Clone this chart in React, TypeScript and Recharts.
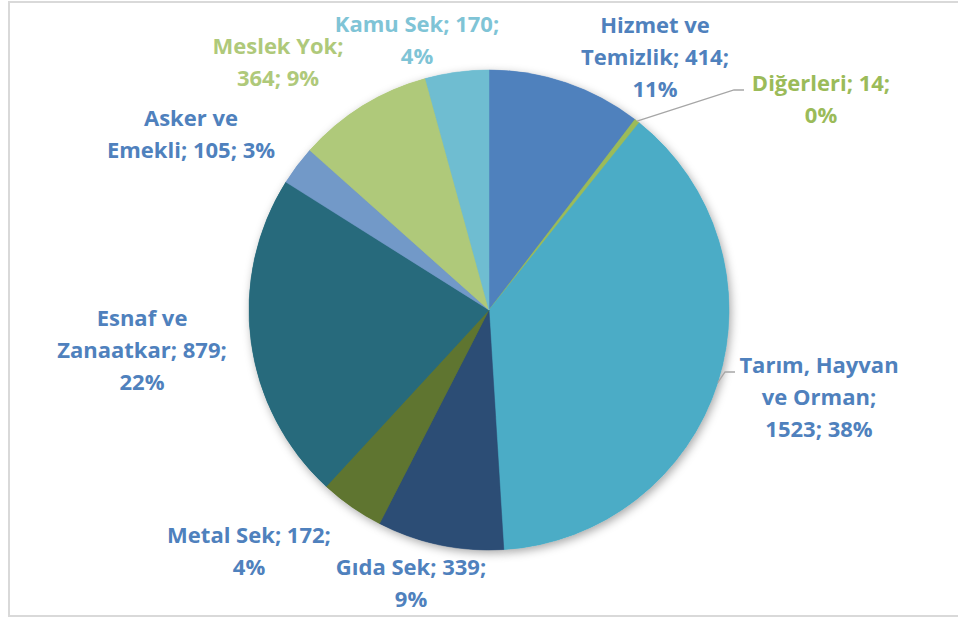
import { Cell, Pie, PieChart } from 'recharts'

const CATEGORIES = [
  'Hizmet ve Temizlik',
  'Diğerleri',
  'Tarım, Hayvan ve Orman',
  'Gıda Sek',
  'Metal Sek',
  'Esnaf ve Zanaatkar',
  'Asker ve Emekli',
  'Meslek Yok',
  'Kamu Sek',
]
const VALUES = [414, 14, 1523, 339, 172, 879, 105, 364, 170]
const PERCENT_LABELS = ['11%', '0%', '38%', '9%', '4%', '22%', '3%', '9%', '4%']

const SLICE_COLORS = [
  '#4f81bd',
  '#9bbb59',
  '#4bacc6',
  '#2c4d75',
  '#5f7530',
  '#276a7c',
  '#7299c8',
  '#afc97a',
  '#6fbdd1',
]
const LABEL_COLORS = [
  '#4f81bd',
  '#9bbb59',
  '#4f81bd',
  '#4f81bd',
  '#4f81bd',
  '#4f81bd',
  '#4f81bd',
  '#afc97a',
  '#7fc4d6',
]
// words per label line
const LABEL_BREAKS = [[2, 2, 1], [2, 1], [2, 2, 2], [3, 1], [3, 1], [2, 2, 1], [2, 3], [2, 2], [3, 1]]
// label block centre x / first baseline, relative to pie centre
const LABEL_OFFSETS = [
  [166, -277],
  [332, -219],
  [330, 63],
  [-78, 265],
  [-240, 233],
  [-347, 16],
  [-298, -184],
  [-211, -256],
  [-72, -278],
]
// distance from label centre back to leader end (null = no leader)
const LEADER_GAP: (number | null)[] = [null, 77, 84, null, null, null, null, null, null]

const data = CATEGORIES.map((name, i) => ({ name, value: VALUES[i] }))

const RAD = Math.PI / 180
const LINE_H = 32

function splitLines(text: string, breaks: number[]) {
  const words = text.split(' ')
  const lines: string[] = []
  let k = 0
  for (const n of breaks) {
    lines.push(words.slice(k, k + n).join(' '))
    k += n
  }
  return lines
}

function renderLabel(props: any) {
  const { cx, cy, midAngle, outerRadius, index } = props
  const [ox, oy] = LABEL_OFFSETS[index]
  const x = cx + ox
  const y = cy + oy
  const text = `${CATEGORIES[index]}; ${VALUES[index]}; ${PERCENT_LABELS[index]}`
  const lines = splitLines(text, LABEL_BREAKS[index])
  const gap = LEADER_GAP[index]
  let leader = null
  if (gap != null) {
    const ex = cx + outerRadius * Math.cos(-midAngle * RAD)
    const ey = cy + outerRadius * Math.sin(-midAngle * RAD)
    const endX = x - gap
    const ly = y - 1
    leader = (
      <polyline
        points={`${ex},${ey} ${endX - 10},${ly} ${endX},${ly}`}
        fill="none"
        stroke="#a6a6a6"
        strokeWidth={1.3}
      />
    )
  }
  return (
    <g key={`lbl-${index}`}>
      {leader}
      <text
        x={x}
        y={y}
        textAnchor="middle"
        fill={LABEL_COLORS[index]}
        fontFamily="'Open Sans', sans-serif"
        fontWeight={700}
        fontSize={22}
      >
        {lines.map((line, i) => (
          <tspan key={i} x={x} y={y + i * LINE_H}>
            {line}
          </tspan>
        ))}
      </text>
    </g>
  )
}

const NO_MARGIN = { top: 0, right: 0, bottom: 0, left: 0 }

export default function App() {
  return (
    <div style={{ position: 'relative', width: 958, height: 618, overflow: 'hidden', background: '#fff' }}>
      <style>{'body{margin:0}'}</style>
      <svg width={0} height={0} style={{ position: 'absolute' }}>
        <defs>
          <filter id="pieShadow" x="-20%" y="-20%" width="140%" height="140%">
            <feDropShadow dx={2} dy={3} stdDeviation={5} floodColor="#000" floodOpacity={0.35} />
          </filter>
        </defs>
      </svg>
      <div
        style={{
          position: 'absolute',
          left: 8,
          top: 1,
          width: 1000,
          height: 616,
          border: '2px solid #d9d9d9',
          boxSizing: 'border-box',
        }}
      />
      <div style={{ position: 'absolute', left: 0, top: 0 }}>
        <PieChart width={958} height={618} margin={NO_MARGIN}>
          <Pie
            data={data}
            dataKey="value"
            nameKey="name"
            cx={489}
            cy={310}
            outerRadius={240}
            startAngle={90}
            endAngle={-270}
            isAnimationActive={false}
            labelLine={false}
          >
            {data.map((d, i) => (
              <Cell key={`s-${d.name}`} fill={SLICE_COLORS[i]} stroke="none" filter="url(#pieShadow)" />
            ))}
          </Pie>
          <Pie
            data={data}
            dataKey="value"
            nameKey="name"
            cx={489}
            cy={310}
            outerRadius={240}
            startAngle={90}
            endAngle={-270}
            isAnimationActive={false}
            labelLine={false}
            label={renderLabel}
          >
            {data.map((d, i) => (
              <Cell key={d.name} fill={SLICE_COLORS[i]} stroke={SLICE_COLORS[i]} strokeWidth={0.5} />
            ))}
          </Pie>
        </PieChart>
      </div>
    </div>
  )
}
